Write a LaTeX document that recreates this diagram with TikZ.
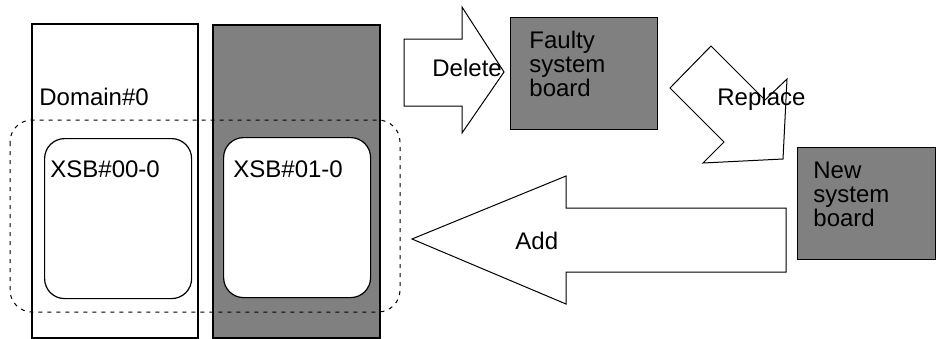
\documentclass[tikz,border=0pt]{standalone}
\usepackage{fontspec}
\setmainfont{Liberation Sans}
\usetikzlibrary{positioning}
\definecolor{boardgray}{RGB}{128,128,128}

\tikzset{
  slot/.style={draw, line width=0.7pt},
  board/.style={draw, line width=0.7pt, fill=boardgray, inner sep=0pt, anchor=north west},
  xsb/.style={draw, line width=0.6pt, fill=white, rounded corners=10pt, inner sep=0pt,
              minimum width=73.5pt, minimum height=80pt, anchor=north west},
  blockarrow/.style={draw, line width=0.5pt, fill=white, line join=miter},
  lbl/.style={inner sep=0pt, align=left}
}

\begin{document}
\begin{tikzpicture}[x=0.5pt, y=-0.5pt, font=\fontsize{12}{12}\selectfont]
            \useasboundingbox (0,0) rectangle (936,338);

            % the two slots
            \draw[slot] (32,24) rectangle (198,338);
            \draw[slot, fill=boardgray] (213,25) rectangle (380,338);

            % domain
            \draw[line width=0.5pt, dash pattern=on 2pt off 2.5pt, rounded corners=11pt] (10,120) rectangle (400,312);
            \node[lbl, anchor=base west] (domain) at (39,105) {Domain\#0};

            \node[xsb] (xsb0) at (44,138) {};
            \node[xsb] (xsb1) at (223,137) {};
            \node[lbl, anchor=base west] (xsb0lbl) at (50,177) {XSB\#00-0};
            \node[lbl, anchor=base west] (xsb1lbl) at (233,177) {XSB\#01-0};

            % boards
            \node[board, minimum width=73.5pt, minimum height=56pt] (faulty) at (510,17) {};
            \node[lbl, anchor=north west] (faultylbl) at (529,31) {Faulty\\system\\board};
            \node[board, minimum width=69pt, minimum height=56pt] (new) at (797,147) {};
            \node[lbl, anchor=north west] (newlbl) at (813,162) {New\\system\\board};

            % steps
            \draw[blockarrow] (404,39) -- (462,39) -- (462,7) -- (504,72) -- (462,133) -- (462,106) -- (404,106) -- cycle;
            \node[lbl, anchor=base west] (delete) at (432,76) {Delete};

            \draw[blockarrow] (670,88) -- (711,46) -- (765,100) -- (787,79) -- (783,159) -- (703,163) -- (724,142) -- cycle;
            \node[lbl, anchor=base west] (replace) at (717,105) {Replace};

            \draw[blockarrow] (412,239) -- (566,176) -- (566,208) -- (786,208) -- (786,272) -- (566,272) -- (566,304) -- cycle;
            \node[lbl, anchor=base west] (add) at (515,249) {Add};
        \end{tikzpicture}
\end{document}
